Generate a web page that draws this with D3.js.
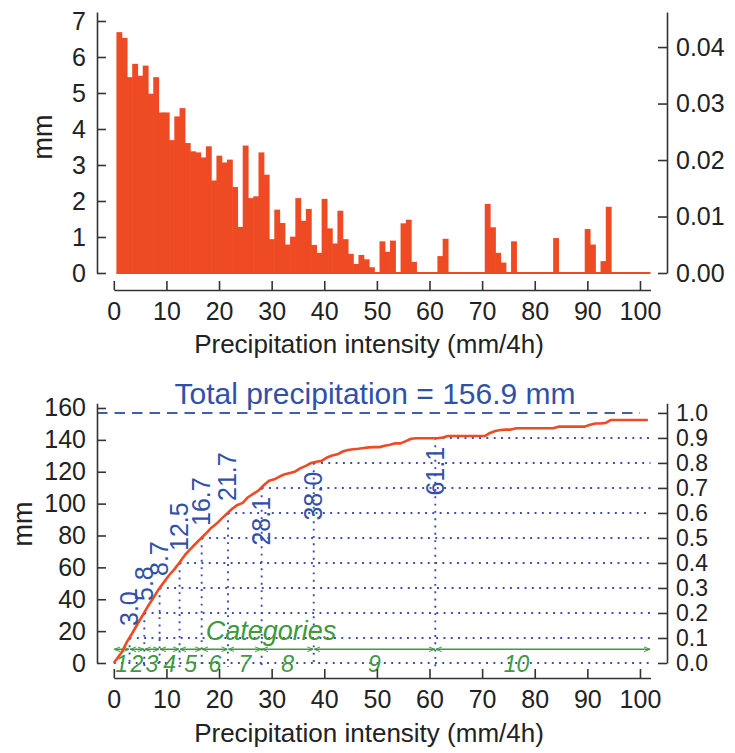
<!DOCTYPE html>
<html>
<head>
<meta charset="utf-8">
<script src="https://cdn.jsdelivr.net/npm/d3@7"></script>
<style>
  html, body { margin: 0; padding: 0; background: #fff; }
  svg { display: block; font-family: "Liberation Sans", Arial, Helvetica, sans-serif; }
</style>
</head>
<body>
<svg id="chart" width="735" height="753"></svg>
<script>
// ---------------- DATA ----------------
// precipitation (mm) per 1 mm/4h intensity bin, bins centred on 1, 2, ..., 101
const binPrecip = [
  6.69, 6.53, 5.44, 5.81, 5.48, 5.76, 4.98, 5.44, 4.46, 4.46,   // 1-10
  3.69, 4.35, 4.58, 3.61, 3.38, 3.35, 3.21, 3.52, 2.57, 3.26,   // 11-20
  3.07, 3.15, 2.39, 1.28, 3.54, 2.08, 2.13, 3.35, 2.73, 0.94,   // 21-30
  1.76, 1.39, 0.79, 1.01, 2.08, 1.45, 1.78, 0.78, 0.56, 2.06,   // 31-40
  1.24, 0.82, 1.73, 0.94, 0.53, 0.25, 0.50, 0.38, 0.16, 0.00,   // 41-50
  0.88, 0.59, 0.90, 0.00, 1.38, 1.48, 0.31, 0.00, 0.00, 0.00,   // 51-60
  0.00, 0.47, 0.95, 0.00, 0.00, 0.00, 0.00, 0.00, 0.00, 0.00,   // 61-70
  1.92, 1.27, 0.56, 0.29, 0.00, 0.88, 0.00, 0.00, 0.00, 0.00,   // 71-80
  0.00, 0.00, 0.00, 0.97, 0.00, 0.00, 0.00, 0.00, 0.00, 1.22,   // 81-90
  0.79, 0.00, 0.33, 1.84, 0.00, 0.00, 0.00, 0.00, 0.00, 0.00,   // 91-100
  0.00                                                          // 101
];
const binCenters = binPrecip.map((d, i) => i + 1);
const totalPrecip = 156.9;

// intensity at which cumulative fraction reaches each level
const quantileLevels = [0.1, 0.2, 0.3, 0.4, 0.5, 0.6, 0.7, 0.8, 0.9];
const quantileValues = [3.0, 5.8, 8.7, 12.5, 16.7, 21.7, 28.1, 38.0, 61.1];
const categoryLabels = ["1", "2", "3", "4", "5", "6", "7", "8", "9", "10"];
const categoryEnd = 92;

const xTicks = [0, 10, 20, 30, 40, 50, 60, 70, 80, 90, 100];
const topLeftTicks = [0, 1, 2, 3, 4, 5, 6, 7];
const topRightTicks = [0, 0.01, 0.02, 0.03, 0.04];
const botLeftTicks = [0, 20, 40, 60, 80, 100, 120, 140, 160];
const botRightTicks = [0, 0.1, 0.2, 0.3, 0.4, 0.5, 0.6, 0.7, 0.8, 0.9, 1.0];

// ---------------- STYLE ----------------
const RED = "#ee4a24";
const BLUE = "#3150a8";
const DOT = "#3a4bb0";
const GREEN = "#3f993f";
const AXIS = "#333";
const TICKFONT = 25;

const svg = d3.select("#chart");

const x = d3.scaleLinear().domain([0, 102]).range([113.8, 650.5]);
const xLeftAxis = 97, xRightAxis = 667;

// ---------- TOP: histogram ----------
const yTop = d3.scaleLinear().domain([0, 7.25]).range([273, 12]);
const yTopR = d3.scaleLinear().domain([0, 7.25 / totalPrecip]).range([273, 12]);
const topAxisY = 290;

function styleAxis(g, size) {
  g.selectAll("path, line").attr("stroke", AXIS).attr("stroke-width", 1.6);
  g.selectAll("text").attr("font-size", size || TICKFONT).attr("fill", "#222")
    .attr("font-family", '"Liberation Sans", Arial, Helvetica, sans-serif');
}

const topG = svg.append("g");
topG.append("g").selectAll("rect")
  .data(binPrecip.map((v, i) => ({c: binCenters[i], v})).filter(d => d.v > 0))
  .join("rect")
  .attr("x", d => x(d.c - 0.5))
  .attr("width", d => x(d.c + 0.5) - x(d.c - 0.5) + 0.6)
  .attr("y", d => yTop(d.v))
  .attr("height", d => yTop(0) - yTop(d.v))
  .attr("fill", RED);
topG.append("line")
  .attr("x1", x(0.5)).attr("x2", x(102))
  .attr("y1", yTop(0)).attr("y2", yTop(0))
  .attr("stroke", RED).attr("stroke-width", 2);

topG.append("g").attr("transform", `translate(0,${topAxisY})`)
  .call(d3.axisBottom(x).tickValues(xTicks).tickSizeInner(-9).tickSizeOuter(0).tickPadding(12))
  .call(styleAxis);
topG.append("g").attr("transform", `translate(${xLeftAxis},0)`)
  .call(d3.axisLeft(yTop).tickValues(topLeftTicks).tickSizeInner(-9).tickSizeOuter(0).tickPadding(11))
  .call(styleAxis);
topG.append("g").attr("transform", `translate(${xRightAxis},0)`)
  .call(d3.axisRight(yTopR).tickValues(topRightTicks).tickFormat(d3.format(".2f"))
        .tickSizeInner(-9).tickSizeOuter(0).tickPadding(9))
  .call(styleAxis);

topG.append("text").attr("x", 369).attr("y", 353).attr("text-anchor", "middle")
  .attr("font-size", 26).attr("fill", "#222").text("Precipitation intensity (mm/4h)");
topG.append("text").attr("transform", "translate(52,137) rotate(-90)").attr("text-anchor", "middle")
  .attr("font-size", 27).attr("fill", "#222").text("mm");

// ---------- BOTTOM: cumulative ----------
const yBot = d3.scaleLinear().domain([0, 163]).range([663, 403.2]);
const yBotR = d3.scaleLinear().domain([0, 163 / totalPrecip]).range([663, 403.2]);
const botAxisY = 678;
const botG = svg.append("g");

// dotted quantile guides
const dots = botG.append("g").attr("stroke", DOT).attr("stroke-width", 1.9)
  .attr("stroke-dasharray", "1.9,5.4").attr("stroke-linecap", "butt").attr("fill", "none");
dots.append("line").attr("x1", x(0)).attr("x2", x(102))
  .attr("y1", yBot(0)).attr("y2", yBot(0));
quantileValues.forEach((q, i) => {
  const yy = yBot(quantileLevels[i] * totalPrecip);
  dots.append("line").attr("x1", x(q)).attr("x2", x(102)).attr("y1", yy).attr("y2", yy);
  dots.append("line").attr("x1", x(q)).attr("x2", x(q)).attr("y1", yy).attr("y2", yBot(0) + 4);
});

// total dashed line
botG.append("line").attr("x1", xLeftAxis).attr("x2", x(100))
  .attr("y1", yBot(totalPrecip)).attr("y2", yBot(totalPrecip))
  .attr("stroke", "#3f5db3").attr("stroke-width", 2).attr("stroke-dasharray", "10.5,7");

// categories arrows
const defs = svg.append("defs");
defs.append("marker").attr("id", "arrEnd").attr("viewBox", "0 0 10 10")
  .attr("refX", 10).attr("refY", 5).attr("markerWidth", 6).attr("markerHeight", 6)
  .attr("markerUnits", "userSpaceOnUse").attr("orient", "auto")
  .append("path").attr("d", "M0,1 L10,5 L0,9").attr("fill", "none").attr("stroke", GREEN).attr("stroke-width", 1.6);
defs.append("marker").attr("id", "arrStart").attr("viewBox", "0 0 10 10")
  .attr("refX", 0).attr("refY", 5).attr("markerWidth", 6).attr("markerHeight", 6)
  .attr("markerUnits", "userSpaceOnUse").attr("orient", "auto")
  .append("path").attr("d", "M10,1 L0,5 L10,9").attr("fill", "none").attr("stroke", GREEN).attr("stroke-width", 1.6);

const bounds = [0, ...quantileValues, 102];
const arrowY = yBot(0) - 13.7;
const catG = botG.append("g");
for (let i = 0; i < bounds.length - 1; i++) {
  catG.append("line").attr("x1", x(bounds[i]) + 0.5).attr("x2", x(bounds[i + 1]) - 0.5)
    .attr("y1", arrowY).attr("y2", arrowY)
    .attr("stroke", GREEN).attr("stroke-width", 1.6)
    .attr("marker-start", "url(#arrStart)").attr("marker-end", "url(#arrEnd)");
}
const labelBounds = [0, ...quantileValues, categoryEnd];
catG.selectAll("text.cat").data(categoryLabels).join("text").attr("class", "cat")
  .attr("x", (d, i) => x((labelBounds[i] + labelBounds[i + 1]) / 2))
  .attr("y", yBot(0) + 8.5)
  .attr("text-anchor", "middle").attr("font-size", 23).attr("font-style", "italic")
  .attr("fill", GREEN).text(d => d);
catG.append("text").attr("x", 271).attr("y", 640).attr("text-anchor", "middle")
  .attr("font-size", 27).attr("font-style", "italic").attr("fill", GREEN).text("Categories");

// cumulative curve
const cum = d3.cumsum(binPrecip);
const curvePts = [[0, 0], ...binCenters.map((c, i) => [c + 0.5, cum[i]])];
botG.append("path").datum(curvePts)
  .attr("d", d3.line().x(d => x(d[0])).y(d => yBot(d[1])))
  .attr("fill", "none").attr("stroke", RED).attr("stroke-width", 2.6).attr("stroke-linejoin", "round");

// quantile labels (rotated)
quantileValues.forEach((q, i) => {
  const yy = yBot(quantileLevels[i] * totalPrecip);
  const below = q > 25;
  botG.append("text")
    .attr("transform", `translate(${x(q) + 8.5},${below ? yy + 9 : yy - 12}) rotate(-90)`)
    .attr("text-anchor", below ? "end" : "start")
    .attr("font-size", 25).attr("fill", BLUE)
    .text(q.toFixed(1));
});

// title
botG.append("text").attr("x", 375).attr("y", 404).attr("text-anchor", "middle")
  .attr("font-size", 30).attr("fill", BLUE).text(`Total precipitation = ${totalPrecip} mm`);

// axes
botG.append("g").attr("transform", `translate(0,${botAxisY})`)
  .call(d3.axisBottom(x).tickValues(xTicks).tickSizeInner(-9).tickSizeOuter(0).tickPadding(12))
  .call(styleAxis);
botG.append("g").attr("transform", `translate(${xLeftAxis},0)`)
  .call(d3.axisLeft(yBot).tickValues(botLeftTicks).tickSizeInner(-9).tickSizeOuter(0).tickPadding(11))
  .call(styleAxis);
botG.append("g").attr("transform", `translate(${xRightAxis},0)`)
  .call(d3.axisRight(yBotR).tickValues(botRightTicks).tickFormat(d3.format(".1f"))
        .tickSizeInner(-9).tickSizeOuter(0).tickPadding(9))
  .call(g => styleAxis(g, 23));

botG.append("text").attr("x", 369).attr("y", 742).attr("text-anchor", "middle")
  .attr("font-size", 26).attr("fill", "#222").text("Precipitation intensity (mm/4h)");
botG.append("text").attr("transform", "translate(32,524) rotate(-90)").attr("text-anchor", "middle")
  .attr("font-size", 27).attr("fill", "#222").text("mm");
</script>
</body>
</html>
